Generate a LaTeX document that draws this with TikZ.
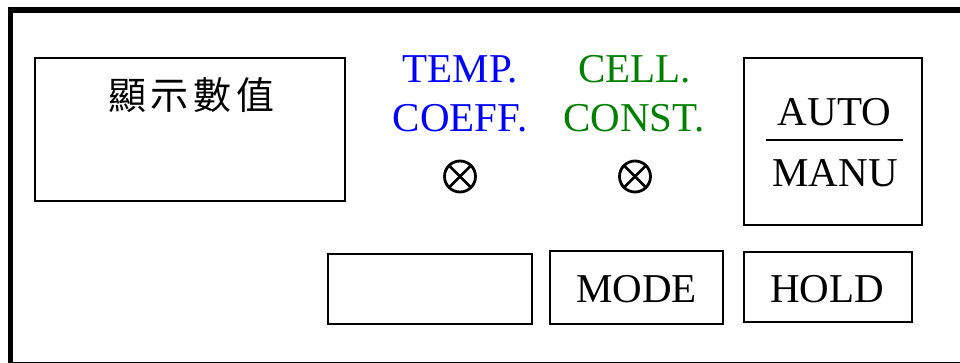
\documentclass[tikz,border=0pt]{standalone}
\usepackage{fontspec}
\setmainfont{Liberation Serif}
\newfontfamily\cjk{Noto Sans CJK TC}
\usetikzlibrary{calc}

\definecolor{tempblue}{RGB}{0,0,255}
\definecolor{cellgreen}{RGB}{0,128,0}

\tikzset{
  panel/.style={draw=black, line width=2pt, inner sep=0pt, outer sep=0pt},
  keytext/.style={anchor=base, inner sep=0pt, font=\fontsize{41}{49}\selectfont},
  lamp/.style={circle, draw=black, line width=2.8pt, minimum size=31pt, inner sep=0pt, outer sep=0pt},
  lampcross/.style={line width=2.8pt}
}

\begin{document}
\begin{tikzpicture}[x=1pt, y=-1pt]
  \useasboundingbox (0,0) rectangle (960,363);
  \clip (0,0) rectangle (960,363);

  % front-panel frame (continues past the right and bottom edges)
  \draw[line width=5.5pt] (10.5,10) rectangle (975,365);

  % display window
  \node[panel, minimum width=310pt, minimum height=143pt] (display) at (190,129.5) {};
  \node[anchor=base, inner sep=0pt, font=\cjk\fontsize{38}{44}\selectfont] (displaylabel) at (191.5,110)
    {顯\hspace{5pt}示\hspace{5pt}數\hspace{5pt}值};

  % indicator labels
  \node[keytext, text=tempblue] (temp) at (460,83) {TEMP.};
  \node[keytext, text=tempblue] (coeff) at (460,132) {COEFF.};
  \node[keytext, text=cellgreen] (cell) at (634.5,83) {CELL.};
  \node[keytext, text=cellgreen] (const) at (634,132) {CONST.};

  % indicator lamps
  \node[lamp] (templamp) at (460,176.5) {};
  \draw[lampcross] (templamp.north west) -- (templamp.south east);
  \draw[lampcross] (templamp.north east) -- (templamp.south west);
  \node[lamp] (celllamp) at (635,176.5) {};
  \draw[lampcross] (celllamp.north west) -- (celllamp.south east);
  \draw[lampcross] (celllamp.north east) -- (celllamp.south west);

  % AUTO / MANU switch
  \node[panel, minimum width=178pt, minimum height=167pt] (automanu) at (833,141.5) {};
  \node[keytext] (auto) at (834.5,126) {AUTO};
  \node[keytext] (manu) at (835,187) {MANU};
  \coordinate (divl) at (766,140);
  \coordinate (divr) at (903,140);
  \draw[line width=1.6pt] (divl) -- (divr);

  % lower row of keys
  \node[panel, minimum width=204pt, minimum height=70pt] (blank) at (430,289) {};
  \node[panel, minimum width=173pt, minimum height=73pt] (mode) at (636.5,287.5) {};
  \node[keytext] (modelabel) at (636.5,302) {MODE};
  \node[panel, minimum width=168pt, minimum height=70pt] (hold) at (828,287) {};
  \node[keytext] (holdlabel) at (827,302) {HOLD};
\end{tikzpicture}
\end{document}
